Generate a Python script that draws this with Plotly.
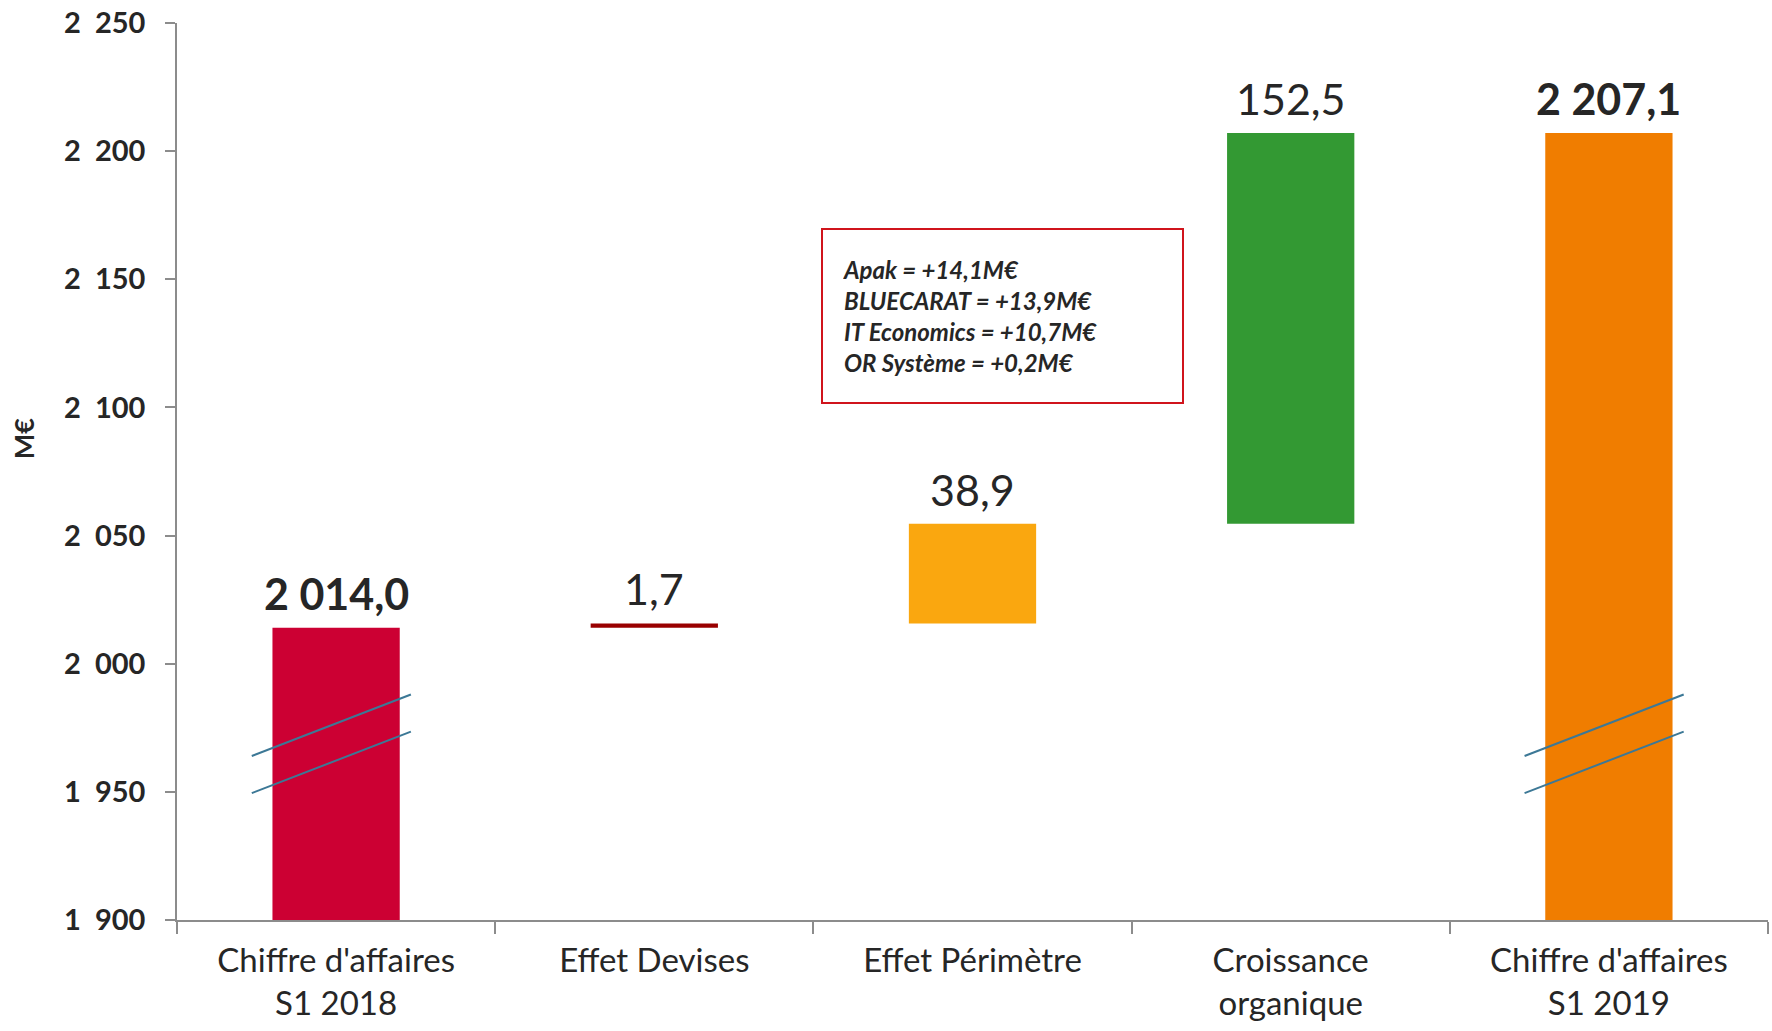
import plotly.graph_objects as go

# ---- data ----
categories = ["Chiffre d'affaires<br>S1 2018", "Effet Devises", "Effet Périmètre",
              "Croissance<br>organique", "Chiffre d'affaires<br>S1 2019"]
start_value = 2014.0
deltas = [1.7, 38.9, 152.5]
end_value = 2207.1
bar_colors = ["#CC0033", "#990000", "#FAA70F", "#339933", "#F07D00"]
y_tick_values = [1900, 1950, 2000, 2050, 2100, 2150, 2200, 2250]
y_tick_labels = ["1\u00a0\u00a0900", "1\u00a0\u00a0950", "2\u00a0\u00a0000", "2\u00a0\u00a0050",
                 "2\u00a0\u00a0100", "2\u00a0\u00a0150", "2\u00a0\u00a0200", "2\u00a0\u00a0250"]
note_lines = ["Apak = +14,1M€", "BLUECARAT = +13,9M€", "IT Economics = +10,7M€", "OR Système = +0,2M€"]
y_unit = "M€"

# ---- derived waterfall geometry ----
values = [start_value] + deltas + [end_value]
bases = [0]
running = start_value
for d in deltas:
    bases.append(running)
    running += d
bases.append(0)
tops = [b + v for b, v in zip(bases, values)]
is_total = [True] + [False] * len(deltas) + [True]


def fr(v):
    s = f"{v:,.1f}"
    return s.replace(",", " ").replace(".", ",")


FONT = "Lato"
TXT = "#262626"
AX = "#8C8C8C"

fig = go.Figure()
fig.add_trace(go.Bar(
    x=categories, y=values, base=bases,
    marker=dict(color=bar_colors, line=dict(width=0)),
    width=0.4, hoverinfo="skip", showlegend=False,
))

annotations = []
for c, t, v, tot in zip(categories, tops, values, is_total):
    txt = fr(v)
    annotations.append(dict(
        x=c, y=t, xref="x", yref="y", text=f"<b>{txt}</b>" if tot else txt,
        showarrow=False, yanchor="bottom", yshift=7,
        font=dict(family=FONT, size=43, color=TXT),
    ))

# note box
annotations.append(dict(
    x=0.519, y=0.6736, xref="paper", yref="paper",
    text="<br>".join(f"<b><i>{l}</i></b>" for l in note_lines),
    showarrow=False, align="left", valign="middle",
    width=319, height=132, borderpad=20,
    bordercolor="#D0141C", borderwidth=2, bgcolor="white",
    xanchor="center", yanchor="middle",
    font=dict(family=FONT, size=24, color=TXT),
))

# y unit label
annotations.append(dict(
    x=0, y=0.537, xref="paper", yref="paper", text=f"<b>{y_unit}</b>",
    textangle=-90, showarrow=False, xanchor="center", yanchor="middle",
    xshift=-154, font=dict(family=FONT, size=27, color=TXT),
))

# axis-break marks on the two total bars
shapes = []
for i, tot in enumerate(is_total):
    if not tot:
        continue
    for y0, y1 in [(1964.0, 1988.0), (1949.5, 1973.5)]:
        shapes.append(dict(type="line", xref="x", yref="y",
                           x0=i - 0.265, x1=i + 0.235, y0=y0, y1=y1,
                           line=dict(color="#3C7896", width=2)))

fig.update_layout(
    width=1772, height=1031,
    margin=dict(l=177, r=4, t=23, b=111),
    paper_bgcolor="white", plot_bgcolor="white",
    annotations=annotations, shapes=shapes,
    font=dict(family=FONT, color=TXT),
)
fig.update_xaxes(
    type="category", range=[-0.5, 4.5], tickson="boundaries",
    ticks="outside", ticklen=12, tickcolor=AX, tickwidth=1.5,
    showline=True, linecolor=AX, linewidth=1.5, showgrid=False,
    tickfont=dict(family=FONT, size=33, color=TXT),
    ticklabelstandoff=11, automargin=False,
)
fig.update_yaxes(
    range=[1900, 2250], tickvals=y_tick_values, ticktext=y_tick_labels,
    ticks="outside", ticklen=10, tickcolor=AX, tickwidth=1.5,
    showline=True, linecolor=AX, linewidth=1.5, showgrid=False, zeroline=False,
    tickfont=dict(family=FONT, size=29, color=TXT, weight="bold"),
    ticklabelstandoff=14, automargin=False,
)

fig.write_html("out.html", config={"displayModeBar": False},
               post_script="document.body.style.margin='0';document.body.style.overflow='hidden';")
